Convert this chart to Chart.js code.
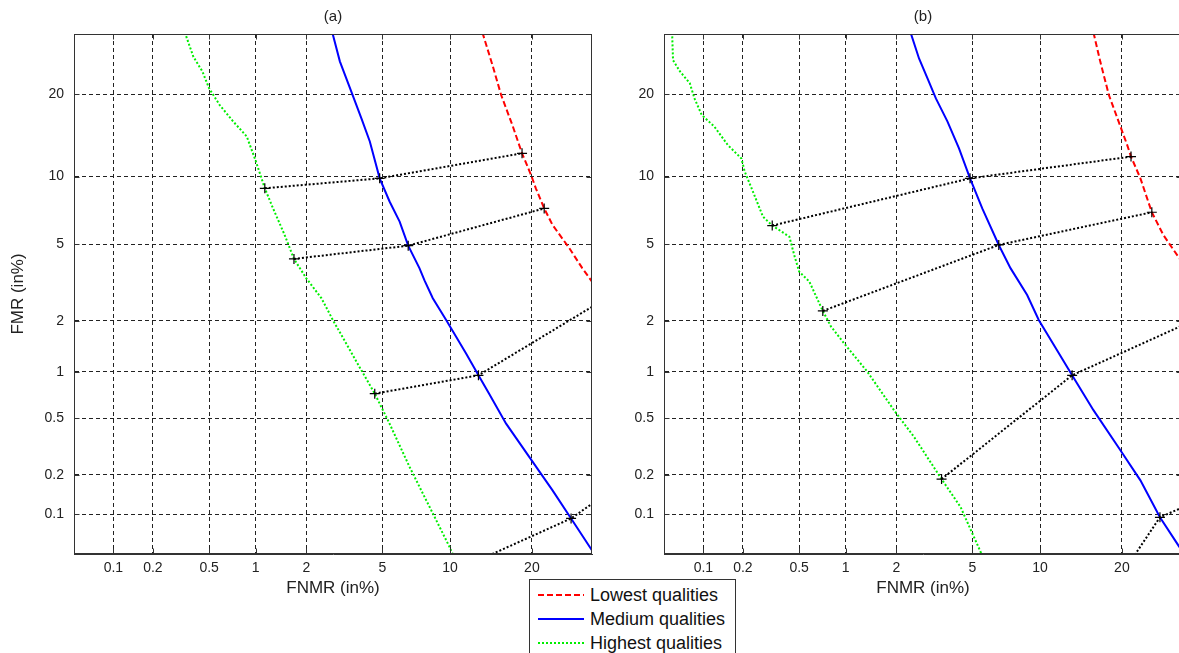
<!DOCTYPE html>
<html><head><meta charset="utf-8">
<script src="https://cdn.jsdelivr.net/npm/chart.js@4.4.1/dist/chart.umd.min.js"></script>
<style>
html,body{margin:0;padding:0;background:#fff;width:1179px;height:653px;overflow:hidden;}
#wrap{position:relative;width:1179px;height:653px;overflow:hidden;background:#fff;}
canvas{position:absolute;top:0;}
#ca{left:0px}
#cb{left:590px}
#legend{position:absolute;left:529px;top:579px;width:205px;height:90px;border:1px solid #333;background:#fff;font-family:"Liberation Sans",Arial,sans-serif;font-size:18px;color:#111;z-index:2}
.row{position:absolute;left:0;width:205px;height:24px;line-height:24px;white-space:nowrap}
.row span{position:absolute;left:60px;top:0}
.row svg{position:absolute;left:8px;top:0}
</style></head>
<body><div id="wrap">
<canvas id="ca" width="600" height="600"></canvas>
<canvas id="cb" width="600" height="600"></canvas>
<div id="legend">
 <div class="row" style="top:3px"><svg width="48" height="24"><line x1="0" y1="12" x2="46" y2="12" stroke="#ff0000" stroke-width="2" stroke-dasharray="6 3"/></svg><span>Lowest qualities</span></div>
 <div class="row" style="top:27px"><svg width="48" height="24"><line x1="0" y1="12" x2="46" y2="12" stroke="#0000ff" stroke-width="2"/></svg><span>Medium qualities</span></div>
 <div class="row" style="top:51px"><svg width="48" height="24"><line x1="0" y1="12" x2="46" y2="12" stroke="#00ee00" stroke-width="2" stroke-dasharray="2 2"/></svg><span>Highest qualities</span></div>
</div>
</div>
<script>
// ---------- data (percent values) ----------
const xTicks = [0.1, 0.2, 0.5, 1, 2, 5, 10, 20];
const yTicks = [0.1, 0.2, 0.5, 1, 2, 5, 10, 20];
const axisMin = 0.048, axisMax = 30.2;
const seriesNames = ['Lowest qualities', 'Medium qualities', 'Highest qualities'];

// Panel (a)
const lowA_fnmr  = [13.4, 14.6, 15.7, 17.2, 18.55, 19.9, 20.6, 21.9, 23.25, 26.1, 28.4, 30.2, 32.5];
const lowA_fmr   = [30.5, 24.7, 19.9, 15.7, 12.36, 10.1, 8.94, 7.32, 6.17, 4.79, 3.82, 3.26, 2.62];
const medA_fnmr  = [2.78, 3.05, 3.50, 3.94, 4.34, 4.85, 5.41, 6.03, 6.60, 7.41, 7.80, 8.47, 9.64, 11.6, 12.95, 14.2, 16.35, 19.6, 23.25, 26.4, 30.0, 31.5];
const medA_fmr   = [30.5, 25.3, 20.4, 16.6, 13.7, 9.83, 7.85, 6.39, 4.93, 3.82, 3.31, 2.66, 2.02, 1.29, 0.950, 0.727, 0.460, 0.270, 0.153, 0.093, 0.053, 0.042];
const highA_fnmr = [0.34, 0.39, 0.45, 0.50, 0.59, 0.72, 0.88, 1.00, 1.14, 1.28, 1.50, 1.70, 2.00, 2.43, 2.80, 3.94, 4.59, 5.41, 6.69, 7.67, 8.47, 9.95, 10.9];
const highA_fmr  = [30.5, 26.1, 23.6, 20.9, 18.4, 16.2, 14.3, 11.6, 8.94, 7.32, 5.54, 4.25, 3.39, 2.66, 2.02, 1.02, 0.727, 0.460, 0.229, 0.145, 0.102, 0.055, 0.036];
const linkA_fnmr = [[1.14, 4.85, 18.55], [1.70, 6.60, 21.9], [4.59, 12.95, 32.5], [10.9, 26.4, 33.86]];
const linkA_fmr  = [[8.94, 9.83, 12.36], [4.25, 4.93, 7.32], [0.727, 0.950, 2.62], [0.036, 0.093, 0.153]];

// Panel (b)
const lowB_fnmr  = [16.0, 16.9, 18.1, 19.5, 20.8, 21.4, 22.9, 24.8, 26.8, 29.7, 32.7, 37.0];
const lowB_fmr   = [30.5, 25.3, 19.9, 16.2, 13.3, 12.0, 9.83, 7.04, 5.54, 4.28, 3.31, 2.30];
const medB_fnmr  = [2.40, 2.67, 2.96, 3.28, 3.76, 4.30, 4.87, 5.57, 6.64, 7.49, 8.84, 9.88, 11.7, 13.37, 16.0, 19.8, 22.9, 26.2, 29.7, 31.7];
const medB_fmr   = [30.5, 25.8, 22.5, 19.4, 16.2, 12.9, 9.83, 7.32, 4.97, 3.82, 2.77, 2.02, 1.35, 0.950, 0.567, 0.300, 0.182, 0.095, 0.055, 0.039];
const highB_fnmr = [0.056, 0.057, 0.065, 0.078, 0.085, 0.097, 0.122, 0.154, 0.195, 0.206, 0.237, 0.280, 0.326, 0.429, 0.463, 0.50, 0.585, 0.717, 0.808, 0.981, 1.36, 1.94, 2.51, 3.51, 4.38, 5.47, 5.78];
const highB_fmr  = [30.5, 25.5, 23.6, 21.7, 19.4, 17.05, 15.5, 13.3, 11.8, 10.5, 8.66, 6.73, 6.13, 5.44, 4.44, 3.67, 3.26, 2.27, 1.86, 1.48, 0.997, 0.567, 0.373, 0.186, 0.114, 0.050, 0.039];
const linkB_fnmr = [[0.326, 4.87, 21.4], [0.717, 6.64, 24.8], [3.51, 13.37, 37.0], [18.3, 26.2, 35.6]];
const linkB_fmr  = [[6.13, 9.83, 12.0], [2.27, 4.97, 7.04], [0.186, 0.950, 2.30], [0.023, 0.095, 0.140]];

// ---------- normal deviate (probit) scale ----------
function probit(p) {
  const a=[-3.969683028665376e+01,2.209460984245205e+02,-2.759285104469687e+02,1.383577518672690e+02,-3.066479806614716e+01,2.506628277459239e+00];
  const b=[-5.447609879822406e+01,1.615858368580409e+02,-1.556989798598866e+02,6.680131188771972e+01,-1.328068155288572e+01];
  const c=[-7.784894002430293e-03,-3.223964580411365e-01,-2.400758277161838e+00,-2.549732539343734e+00,4.374664141464968e+00,2.938163982698783e+00];
  const d=[7.784695709041462e-03,3.224671290700398e-01,2.445134137142996e+00,3.754408661907416e+00];
  const pl = 0.02425; let q, r;
  if (p < pl) { q = Math.sqrt(-2*Math.log(p)); return (((((c[0]*q+c[1])*q+c[2])*q+c[3])*q+c[4])*q+c[5])/((((d[0]*q+d[1])*q+d[2])*q+d[3])*q+1); }
  if (p <= 1-pl) { q = p-0.5; r = q*q; return (((((a[0]*r+a[1])*r+a[2])*r+a[3])*r+a[4])*r+a[5])*q/(((((b[0]*r+b[1])*r+b[2])*r+b[3])*r+b[4])*r+1); }
  q = Math.sqrt(-2*Math.log(1-p)); return -(((((c[0]*q+c[1])*q+c[2])*q+c[3])*q+c[4])*q+c[5])/((((d[0]*q+d[1])*q+d[2])*q+d[3])*q+1);
}
function normCdf(z) {
  const t = 1/(1+0.2316419*Math.abs(z));
  const y = 0.3989422804*Math.exp(-z*z/2)*t*(0.31938153+t*(-0.356563782+t*(1.781477937+t*(-1.821255978+t*1.330274429))));
  return z > 0 ? 1-y : y;
}
class ProbitScale extends Chart.LinearScale {
  buildTicks() { return (this.options.tickValues || []).map(v => ({ value: v })); }
  configure() {
    super.configure();
    this._zmin = probit(this.min / 100);
    this._zmax = probit(this.max / 100);
  }
  getPixelForValue(value) {
    if (value === null || value === undefined || isNaN(value)) return NaN;
    return this.getPixelForDecimal((probit(value / 100) - this._zmin) / (this._zmax - this._zmin));
  }
  getValueForPixel(pixel) {
    const dec = this.getDecimalForPixel(pixel);
    return normCdf(this._zmin + dec * (this._zmax - this._zmin)) * 100;
  }
}
ProbitScale.id = 'probit';
ProbitScale.defaults = { ticks: { callback: v => String(v) } };
Chart.register(ProbitScale);

Chart.defaults.font.family = '"Liberation Sans", Arial, sans-serif';
Chart.defaults.color = '#222';

const boxPlugin = {
  id: 'box',
  afterDatasetsDraw(chart) {
    const { ctx, chartArea: a, scales } = chart;
    const L = Math.floor(a.left) + 0.5, T = Math.floor(a.top) + 0.5;
    const R = Math.floor(a.right) - 0.5, B = Math.floor(a.bottom) - 0.5;
    ctx.save();
    ctx.strokeStyle = '#333'; ctx.lineWidth = 1; ctx.setLineDash([]);
    ctx.strokeRect(L, T, R - L, B - T);
    ctx.beginPath();
    scales.x.ticks.forEach((t, i) => {
      const px = Math.round(scales.x.getPixelForTick(i)) + 0.5;
      ctx.moveTo(px, B); ctx.lineTo(px, B - 5);
      ctx.moveTo(px, T); ctx.lineTo(px, T + 5);
    });
    scales.y.ticks.forEach((t, i) => {
      const py = Math.round(scales.y.getPixelForTick(i)) + 0.5;
      ctx.moveTo(L, py); ctx.lineTo(L + 5, py);
      ctx.moveTo(R, py); ctx.lineTo(R - 5, py);
    });
    ctx.stroke();
    ctx.restore();
  }
};

function pts(xs, ys) { return xs.map((x, i) => ({ x: x, y: ys[i] })); }

function makeChart(id, title, showYTitle, low, med, high, linkX, linkY) {
  const datasets = [];
  linkX.forEach((xs, k) => {
    datasets.push({
      label: 'link' + k, data: pts(xs, linkY[k]), borderColor: '#000', borderWidth: 2,
      borderDash: [2, 2], pointStyle: 'cross', pointRadius: 5, pointBorderWidth: 1.2,
      pointBorderColor: '#000', pointBackgroundColor: '#000', fill: false, tension: 0, order: 0
    });
  });
  datasets.push({ label: seriesNames[0], data: pts(low[0], low[1]), borderColor: '#ff0000', borderWidth: 2, borderDash: [6, 3], pointRadius: 0, fill: false, tension: 0, order: 1 });
  datasets.push({ label: seriesNames[1], data: pts(med[0], med[1]), borderColor: '#0000ff', borderWidth: 2, pointRadius: 0, fill: false, tension: 0, order: 2 });
  datasets.push({ label: seriesNames[2], data: pts(high[0], high[1]), borderColor: '#00ee00', borderWidth: 2, borderDash: [2, 2], pointRadius: 0, fill: false, tension: 0, order: 3 });

  const grid = { color: '#222', lineWidth: 1, drawTicks: false };
  const border = { display: true, color: '#333', width: 1, dash: [4, 3] };
  return new Chart(document.getElementById(id), {
    type: 'line',
    data: { datasets },
    options: {
      responsive: false, animation: false, events: [],
      layout: { padding: { left: 0, right: 8, top: 0, bottom: 0 } },
      plugins: {
        legend: { display: false }, tooltip: { enabled: false },
        title: { display: true, text: title, fullSize: false, color: '#222',
                 font: { size: 15, weight: 'normal' }, padding: { top: 8, bottom: 8 } }
      },
      scales: {
        x: {
          type: 'probit', position: 'bottom', min: axisMin, max: axisMax, tickValues: xTicks,
          grid, border,
          ticks: { autoSkip: false, maxRotation: 0, minRotation: 0, padding: 6, font: { size: 14 }, color: '#222', callback: v => String(v) },
          title: { display: true, text: 'FNMR (in%)', color: '#222', font: { size: 17 }, padding: { top: 0, bottom: 1 } },
          afterFit: s => { s.height = 46; }
        },
        y: {
          type: 'probit', position: 'left', min: axisMin, max: axisMax, tickValues: yTicks,
          grid, border,
          ticks: { autoSkip: false, padding: 10, font: { size: 14 }, color: '#222', callback: v => String(v) },
          title: { display: showYTitle, text: 'FMR (in%)', color: '#222', font: { size: 17 }, padding: { top: 8, bottom: 0 } },
          afterFit: s => { s.width = 74; }
        }
      }
    },
    plugins: [boxPlugin]
  });
}

makeChart('ca', '(a)', true, [lowA_fnmr, lowA_fmr], [medA_fnmr, medA_fmr], [highA_fnmr, highA_fmr], linkA_fnmr, linkA_fmr);
makeChart('cb', '(b)', false, [lowB_fnmr, lowB_fmr], [medB_fnmr, medB_fmr], [highB_fnmr, highB_fmr], linkB_fnmr, linkB_fmr);
</script>
</body></html>
